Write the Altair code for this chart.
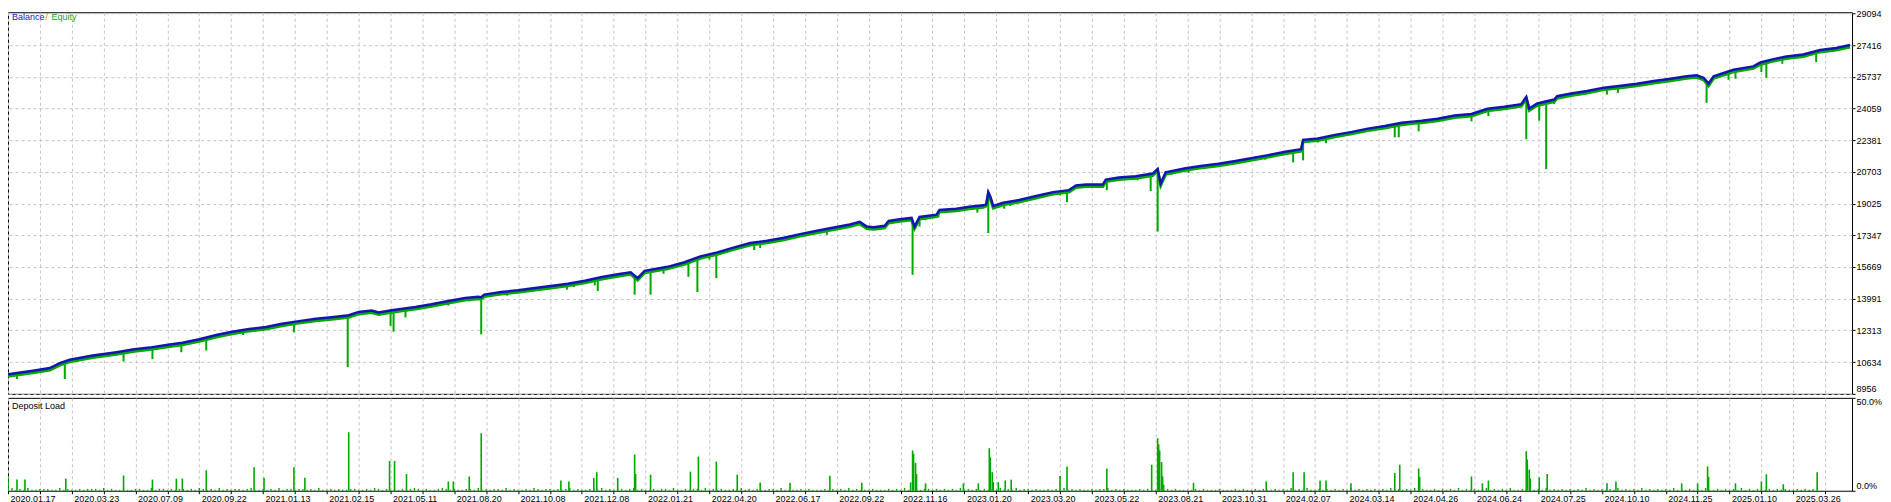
import altair as alt
import numpy as np
import pandas as pd

# ---------------- data (deal index -> values) ----------------
bal_x = [7, 33, 50, 60, 70, 93, 117, 133, 150, 167, 183, 200, 217, 233, 250, 267, 283, 300, 317, 333,
         350, 360, 373, 380, 393, 417, 433, 450, 467, 480, 483, 486, 503, 520, 537, 553, 570, 587, 603, 620,
         633, 640, 647, 670, 687, 703, 720, 737, 753, 770, 787, 803, 820, 837, 853, 863, 870, 877, 888, 892,
         903, 915, 918, 923, 940, 943, 960, 973, 987, 990, 992, 994, 997, 1007, 1023, 1040, 1057, 1073, 1080, 1090,
         1107, 1110, 1123, 1140, 1157, 1162, 1165, 1170, 1190, 1207, 1223, 1240, 1257, 1273, 1290, 1306, 1308, 1323, 1340, 1357,
         1373, 1390, 1407, 1420, 1427, 1443, 1460, 1477, 1493, 1510, 1527, 1532, 1535, 1543, 1560, 1563, 1577, 1593, 1610, 1627,
         1643, 1660, 1677, 1693, 1703, 1710, 1715, 1720, 1740, 1760, 1767, 1777, 1793, 1810, 1827, 1843, 1857]
bal_v = [9990, 10180, 10320, 10580, 10757, 10983, 11161, 11298, 11403, 11545, 11665, 11844, 12070, 12243, 12385, 12490, 12663, 12805, 12926, 13015,
         13120, 13293, 13367, 13262, 13383, 13556, 13698, 13871, 14029, 14090, 14070, 14207, 14344, 14433, 14554, 14659, 14785, 14943, 15131, 15289,
         15394, 15080, 15467, 15677, 15919, 16234, 16444, 16707, 16938, 17058, 17216, 17410, 17583, 17757, 17914, 18056, 17809, 17778, 17846, 18108,
         18198, 18266, 17809, 18319, 18440, 18686, 18756, 18860, 18933, 19000, 19631, 19400, 18896, 19070, 19212, 19422, 19631, 19736, 19983, 20035,
         20035, 20298, 20403, 20471, 20613, 20855, 20088, 20681, 20891, 21033, 21138, 21275, 21433, 21590, 21769, 21906, 22400, 22467, 22661, 22819,
         22992, 23134, 23307, 23376, 23412, 23517, 23691, 23764, 24042, 24147, 24289, 24672, 24058, 24320, 24531, 24709, 24846, 24987, 25161, 25266,
         25371, 25512, 25633, 25758, 25811, 25685, 25371, 25758, 26106, 26284, 26494, 26631, 26810, 26915, 27157, 27262, 27420]

eq_drop_x = [17, 65, 124, 153, 182, 207, 244, 295, 349, 392, 395, 407, 426, 450, 471, 483, 509, 569, 576, 597,
             600, 637, 653, 666, 677, 691, 700, 712, 719, 757, 763, 830, 916, 923, 929, 942, 967, 981, 992, 1002,
             1008, 1014, 1042, 1064, 1071, 1103, 1111, 1142, 1155, 1162, 1176, 1193, 1270, 1298, 1308, 1323, 1331, 1400, 1404, 1424,
             1477, 1494, 1532, 1545, 1552, 1560, 1613, 1624, 1713, 1735, 1742, 1768, 1773, 1789, 1823, 1833]
eq_drop_v = [9744, 9744, 10668, 10794, 11161, 11245, 12070, 12212, 10374, 12558, 12243, 12999, 13435, 13629, 13855, 12107, 14154, 14469, 14606, 14695,
             14396, 14207, 14207, 15310, 15656, 15152, 14344, 16061, 15079, 16570, 16675, 17373, 15257, 17809, 18145, 18283, 18670, 18545, 17463, 18807,
             18755, 18896, 19280, 19458, 19106, 19857, 19736, 20261, 19683, 17547, 20561, 20645, 21349, 21207, 21312, 22257, 22220, 22535, 22535, 22850,
             23376, 23659, 22430, 23412, 20855, 24289, 24793, 24882, 24357, 25581, 25633, 25985, 25685, 26421, 26510, 27035]

load_x = [8, 17, 25, 66, 124, 153, 177, 183, 207, 255, 265, 295, 306, 350, 391, 396, 408, 450, 455, 471,
          483, 563, 571, 596, 599, 620, 637, 638, 653, 693, 701, 719, 740, 763, 793, 833, 865, 914, 916, 917,
          919, 920, 929, 967, 982, 993, 994, 996, 997, 1002, 1009, 1015, 1064, 1071, 1111, 1156, 1162, 1163, 1164, 1166,
          1167, 1168, 1198, 1271, 1298, 1309, 1325, 1331, 1356, 1400, 1405, 1424, 1425, 1477, 1488, 1494, 1532, 1533, 1535, 1536,
          1545, 1553, 1613, 1622, 1688, 1704, 1714, 1715, 1742, 1768, 1773, 1790, 1824]
load_v = [8, 6, 6, 6.5, 8.2, 6, 6.5, 6.5, 11, 12.6, 7, 12.7, 7, 31.5, 16, 16, 9, 5, 5, 7.7,
          31, 5.5, 5, 6.9, 10, 6.9, 19.5, 9, 8.7, 10.3, 18.4, 15.7, 8.7, 4.5, 4.3, 8.1, 4.3, 4.5, 21.7, 20,
          15, 9, 4, 4, 4, 22.9, 18, 10, 4.6, 4.6, 5.5, 6, 8, 13, 12, 14, 28.3, 25, 21.7, 15.4,
          7.8, 3.3, 4.3, 5, 10, 10, 5.5, 5.5, 4, 9.5, 14, 12, 7.5, 7.7, 4, 5.5, 21.3, 16.8, 11.4, 6.7,
          7.2, 9, 4, 5, 4, 4, 13.1, 7.5, 4, 5, 8.8, 3.5, 10]

# small deposit-load bars, one every 4 deals from deal 8, in units of 0.5 %
small_load = ("2312131122211312112122213121121122113122121221213"
              "2121312122123112121312212212131121211221121321212"
              "1212321211232121122131212213121121321221212312112"
              "2131212212312112122131121221312121122312121122131"
              "1112121112121213121112111212131121221212121312121"
              "2121312131221211212131212112122312121112121121212"
              "1111212111211121211212112121312131121212121312121"
              "2121312121312112121213121212312121311212121312121"
              "2121312121213121213121212131212121311212121312121"
              "1212121121212")

date_labels = ["2020.01.17", "2020.03.23", "2020.07.09", "2020.09.22", "2021.01.13", "2021.02.15",
               "2021.05.11", "2021.08.20", "2021.10.08", "2021.12.08", "2022.01.21", "2022.04.20",
               "2022.06.17", "2022.09.22", "2022.11.16", "2023.01.20", "2023.03.20", "2023.05.22",
               "2023.08.21", "2023.10.31", "2024.02.07", "2024.03.14", "2024.04.26", "2024.06.24",
               "2024.07.25", "2024.10.10", "2024.11.25", "2025.01.10", "2025.03.26"]
y_ticks = [8956, 10634, 12313, 13991, 15669, 17347, 19025, 20703, 22381, 24059, 25737, 27416, 29094]
load_ticks = [0, 50]

# ---------------- tables ----------------
bal_df = pd.DataFrame({"deal": bal_x, "bal": bal_v})
drop_df = pd.DataFrame({"deal": eq_drop_x, "low": eq_drop_v,
                        "bal": np.interp(eq_drop_x, bal_x, bal_v)})
load_df = pd.DataFrame({"deal": load_x, "load": load_v})
small_df = pd.DataFrame({"deal": [8 + 4 * i for i in range(len(small_load))],
                         "load": [int(c) * 0.5 for c in small_load]})

X0, X1 = 8, 1859
W = 1846
TOP_H, BOT_H = 382, 93
BLUE = "#1414B4"
GREEN = "#00A800"
GRID = "#C4C4C4"
FONT = "Liberation Sans"
FS = 9

grid_vals = list(range(X0, X1, 32))
arr = "[" + ",".join("'" + s + "'" for s in date_labels) + "]"
label_expr = ("(datum.value - 8) % 64 == 0 && (datum.value - 8) / 64 < " + str(len(date_labels))
              + " ? " + arr + "[(datum.value - 8) / 64] : ''")

xs = alt.Scale(domain=[X0, X1], nice=False, zero=False)
ys = alt.Scale(domain=[8956, 29150], nice=False, zero=False)
ls = alt.Scale(domain=[0, 50], nice=False, zero=True)

# ---------------- top panel: balance / equity ----------------
top_x_axis = alt.Axis(values=grid_vals, grid=True, gridDash=[3, 3], gridColor=GRID,
                      labels=False, ticks=False, domain=False, title=None)
top_y_axis = alt.Axis(orient="right", values=y_ticks, format="d", grid=True, gridDash=[3, 3],
                      gridColor=GRID, tickSize=3, tickColor="black", domain=False,
                      labelPadding=1, labelFont=FONT, labelFontSize=FS, labelColor="black",
                      labelFlush=True, labelOverlap=False, title=None)

TX = alt.X("deal:Q", scale=xs, axis=top_x_axis)
TY = alt.Y("bal:Q", scale=ys, axis=top_y_axis)

equity_line = alt.Chart(bal_df).mark_line(color=GREEN, strokeWidth=3, yOffset=2).encode(x=TX, y=TY)
spikes = alt.Chart(drop_df).mark_rule(color=GREEN, strokeWidth=2).encode(x=TX, y=TY, y2="low:Q")
balance_line = alt.Chart(bal_df).mark_line(color=BLUE, strokeWidth=2.5).encode(x=TX, y=TY)
one = pd.DataFrame({"k": [0]})
t_bal = alt.Chart(one).mark_text(text="Balance", color="#2020C8", font=FONT, fontSize=FS,
                                 align="left", baseline="middle").encode(x=alt.value(4), y=alt.value(5))
t_sl = alt.Chart(one).mark_text(text="/", color="#D09000", font=FONT, fontSize=FS,
                                align="left", baseline="middle").encode(x=alt.value(37.5), y=alt.value(5))
t_eq = alt.Chart(one).mark_text(text="Equity", color="#10A810", font=FONT, fontSize=FS,
                                align="left", baseline="middle").encode(x=alt.value(43.5), y=alt.value(5))

top = alt.layer(equity_line, spikes, balance_line, t_bal, t_sl, t_eq).properties(width=W, height=TOP_H)

# ---------------- bottom panel: deposit load ----------------
bot_x_axis = alt.Axis(values=grid_vals, grid=True, gridDash=[3, 3], gridColor=GRID,
                      labelExpr=label_expr, labelAlign="left", labelOffset=2, labelPadding=1,
                      labelFont=FONT, labelFontSize=FS, labelColor="black", labelFlush=False,
                      labelOverlap=False, tickSize=3, tickColor="black",
                      domain=False, title=None)
bot_y_axis = alt.Axis(orient="right", values=load_ticks, grid=False, tickSize=3, tickColor="black",
                      domain=False, labelPadding=1, labelFont=FONT, labelFontSize=FS,
                      labelColor="black", labelFlush=True, labelOverlap=False,
                      labelExpr="datum.value == 50 ? '50.0%' : '0.0%'",
                      title=None)

BX = alt.X("deal:Q", scale=xs, axis=bot_x_axis)
BY = alt.Y("load:Q", scale=ls, axis=bot_y_axis)

small_bars = alt.Chart(small_df).mark_rule(color=GREEN, strokeWidth=1.4).encode(
    x=BX, y=BY, y2=alt.datum(0))
big_bars = alt.Chart(load_df).mark_rule(color=GREEN, strokeWidth=1.6).encode(
    x=BX, y=BY, y2=alt.datum(0))
t_dl = alt.Chart(one).mark_text(text="Deposit Load", color="black", font=FONT, fontSize=FS,
                                align="left", baseline="middle").encode(x=alt.value(4), y=alt.value(8))

bottom = alt.layer(small_bars, big_bars, t_dl).properties(width=W, height=BOT_H)

chart = alt.vconcat(top, bottom, spacing=2, background="white",
                    padding={"left": -8, "top": 0, "right": 0, "bottom": 0}).configure_view(
    stroke="black", strokeWidth=1
)

chart.save("out.html", embed_options={"renderer": "svg", "actions": False})
